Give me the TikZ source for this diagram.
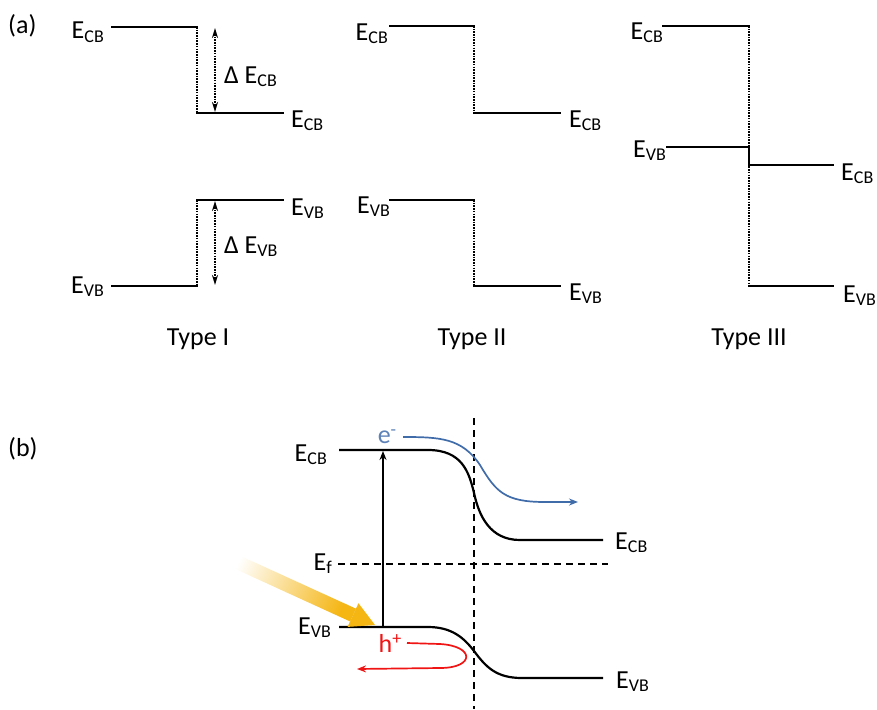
\documentclass[tikz,border=0pt]{standalone}
\usepackage{fontspec}
\setmainfont{Carlito}
\usetikzlibrary{arrows.meta}

% band-edge label: E with a small, slightly lowered subscript
\newcommand\Eband[1]{E{\fontsize{18}{18}\selectfont\raisebox{-3pt}{#1}}}
\newcommand\carrier[2]{#1{\fontsize{18}{18}\selectfont\raisebox{8pt}{#2}}}

\definecolor{sunbeam}{RGB}{245,182,20}
\definecolor{eblue}{RGB}{64,108,170}
\definecolor{hred}{RGB}{240,20,20}

\tikzset{
  lbl/.style={inner sep=0pt, font=\fontsize{26}{30}\selectfont},
  typelbl/.style={inner sep=0pt, font=\fontsize{26}{30}\selectfont, anchor=base},
  lvl/.style={line width=2.2pt, line cap=rect},
  dotline/.style={line width=1.8pt, dash pattern=on 1.6pt off 1.1pt},
  deltaarrow/.style={dotline, {Stealth[length=10pt,width=6pt]}-{Stealth[length=10pt,width=6pt]}},
  dashline/.style={line width=1.7pt, dash pattern=on 7pt off 5pt},
}

\begin{document}
\begin{tikzpicture}[x=1pt,y=-1pt]
\useasboundingbox (0,0) rectangle (877,709);

% ---------------- (a) ----------------
\node[lbl, anchor=base west] (a) at (8,34) {(a)};

% Type I (straddling)
\draw[lvl] (112,27) -- (197,27);
\draw[dotline] (197,27) -- (197,113);
\draw[lvl] (197,113) -- (283,113);
\draw[deltaarrow] (215,28) -- (215,112);
\node[lbl, anchor=base east] (cbIl) at (104,39) {\Eband{CB}};
\node[lbl, anchor=base west] (cbIr) at (291,127) {\Eband{CB}};
\node[lbl, anchor=base west] (dcb) at (224,83) {Δ \Eband{CB}};

\draw[lvl] (197,200) -- (283,200);
\draw[dotline] (197,200) -- (197,286);
\draw[lvl] (112,286) -- (197,286);
\draw[deltaarrow] (215,201) -- (215,285);
\node[lbl, anchor=base west] (vbIr) at (291,215) {\Eband{VB}};
\node[lbl, anchor=base east] (vbIl) at (104,293) {\Eband{VB}};
\node[lbl, anchor=base west] (dvb) at (224,253) {Δ \Eband{VB}};

\node[typelbl] (t1) at (198,345) {Type I};

% Type II (staggered)
\draw[lvl] (390,26) -- (474,26);
\draw[dotline] (474,26) -- (474,113);
\draw[lvl] (474,113) -- (560,113);
\node[lbl, anchor=base east] (cbIIl) at (388,41) {\Eband{CB}};
\node[lbl, anchor=base west] (cbIIr) at (569,127) {\Eband{CB}};

\draw[lvl] (390,200) -- (474,200);
\draw[dotline] (474,200) -- (474,286);
\draw[lvl] (474,286) -- (560,286);
\node[lbl, anchor=base east] (vbIIl) at (390,213) {\Eband{VB}};
\node[lbl, anchor=base west] (vbIIr) at (569,300) {\Eband{VB}};

\node[typelbl] (t2) at (472,345) {Type II};

% Type III (broken gap)
\draw[lvl] (663,26) -- (749,26);
\draw[dotline] (749,26) -- (749,286);
\draw[lvl] (667,147) -- (749,147) -- (749,165) -- (833,165);
\draw[lvl] (749,286) -- (833,286);
\node[lbl, anchor=base east] (cbIIIl) at (663,40) {\Eband{CB}};
\node[lbl, anchor=base east] (vbIIIl) at (666,157) {\Eband{VB}};
\node[lbl, anchor=base west] (cbIIIr) at (841,180) {\Eband{CB}};
\node[lbl, anchor=base west] (vbIIIr) at (843,302) {\Eband{VB}};

\node[typelbl] (t3) at (749,345) {Type III};

% ---------------- (b) ----------------
\node[lbl, anchor=base west] (b) at (8,456) {(b)};

% interface and Fermi level
\draw[dashline] (474,418) -- (474,709);
\draw[dashline] (338,564) -- (608,564);

% bent bands
\draw[lvl, line cap=butt] (339,450) -- (428,450)
  .. controls (462,450) and (469,472) .. (474,493)
  .. controls (479,516) and (490,540) .. (520,540) -- (603,540);
\draw[lvl, line cap=butt] (339,627) -- (428,627)
  .. controls (452,627) and (464,638) .. (474,651)
  .. controls (486,667) and (496,678) .. (522,678) -- (603,678);

\node[lbl, anchor=base east] (cbl) at (327,461) {\Eband{CB}};
\node[lbl, anchor=base east] (efl) at (332,570) {\Eband{f}};
\node[lbl, anchor=base east] (vbl) at (331,634) {\Eband{VB}};
\node[lbl, anchor=base west] (cbr) at (615,549) {\Eband{CB}};
\node[lbl, anchor=base west] (vbr) at (616,688) {\Eband{VB}};

% excitation
\draw[line width=1.3pt, -{Stealth[length=9pt,width=7pt]}] (383,627) -- (383,451);

% incoming light
\shade[top color=sunbeam, bottom color=white, shading angle=-114.4]
  (228.9,550.6) -- (356.0,608.7) -- (350.2,621.5) -- (223.1,563.4) -- cycle;
\fill[sunbeam] (358.5,603.3) -- (375,625) -- (347.7,626.9) -- cycle;
\fill[sunbeam] (356.0,608.7) -- (358.5,603.3) -- (347.7,626.9) -- (350.2,621.5) -- cycle;

% electron transfer
\node[lbl, anchor=base, text=eblue!85!white] (el) at (387,443) {\carrier{e}{-}};
\draw[eblue, line width=1.7pt, -{Stealth[length=9pt,width=7pt]}] (403,437)
  .. controls (440,437) and (462,438) .. (480,465)
  .. controls (496,492) and (505,502) .. (545,502) -- (578,502);

% hole transfer
\node[lbl, anchor=base, text=hred] (hl) at (390,652) {\carrier{h}{+}};
\draw[hred, line width=1.7pt, -{Stealth[length=9pt,width=7pt]}] (407,643)
  -- (440,644) .. controls (475,646) and (475,668) .. (440,668) -- (357,669);

\end{tikzpicture}
\end{document}
